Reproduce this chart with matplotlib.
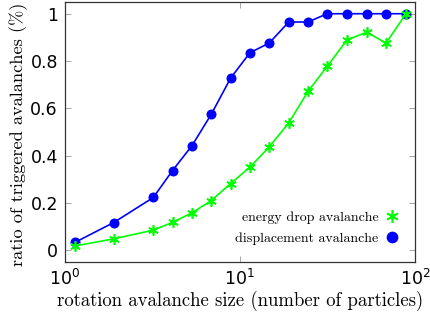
import numpy as np
import matplotlib
matplotlib.use('Agg')
import matplotlib.pyplot as plt

# tamaño de avalancha de rotación (número de partículas)
size = [1.14, 1.9, 3.2, 4.12, 5.32, 6.86, 8.85, 11.4, 14.7, 19.0,
        24.5, 31.5, 41.0, 53.0, 68.3, 88.9]

# proporción de avalanchas disparadas
displacement = [0.033, 0.117, 0.223, 0.337, 0.442, 0.575, 0.728, 0.835,
                0.876, 0.965, 0.965, 1.0, 1.0, 1.0, 1.0, 1.0]
energy_drop = [0.018, 0.048, 0.085, 0.118, 0.158, 0.21, 0.282, 0.351,
               0.437, 0.538, 0.672, 0.777, 0.89, 0.922, 0.876, 1.0]

serif = 'cmr10'

fig = plt.figure(figsize=(4.30, 3.18), dpi=100)
ax = fig.add_axes([0.151, 0.176, 0.814, 0.818])

ax.plot(size, displacement, color=(0, 0, 1), lw=1.2, marker='o',
        markersize=6.2, label='displacement avalanche', zorder=3)
ax.plot(size, energy_drop, color=(0, 1, 0), lw=1.2, marker=(6, 2, 0),
        markersize=7.5, markeredgewidth=1.2, label='energy drop avalanche',
        zorder=4)

ax.set_xscale('log')
ax.set_xlim(1, 100)
ax.set_ylim(-0.05, 1.05)
ax.set_yticks([0, 0.2, 0.4, 0.6, 0.8, 1])
ax.set_yticklabels(['0', '0.2', '0.4', '0.6', '0.8', '1'])
ax.xaxis.set_minor_locator(matplotlib.ticker.NullLocator())

ax.tick_params(direction='in', length=4, width=0.6, color='#999999',
               top=True, right=True, labelsize=12.5, pad=5)
for s in ax.spines.values():
    s.set_linewidth(0.9)
    s.set_color('#333333')

ax.set_xlabel('rotation avalanche size (number of particles)',
              family=serif, fontsize=13.5, labelpad=1)
ax.set_ylabel('ratio of triggered avalanches (%)',
              family=serif, fontsize=13.2)
ax.yaxis.set_label_coords(-0.105, 0.49)

handles, labels = ax.get_legend_handles_labels()
leg = ax.legend(handles[::-1], labels[::-1], loc='lower right',
                frameon=False, markerfirst=False, handlelength=0.8,
                prop={'family': serif, 'size': 10}, borderaxespad=0.85,
                labelspacing=0.55, handletextpad=0.6, markerscale=1.2)
for h in leg.legend_handles:
    h.set_linestyle('none')

plt.savefig('out.png', dpi=100)
